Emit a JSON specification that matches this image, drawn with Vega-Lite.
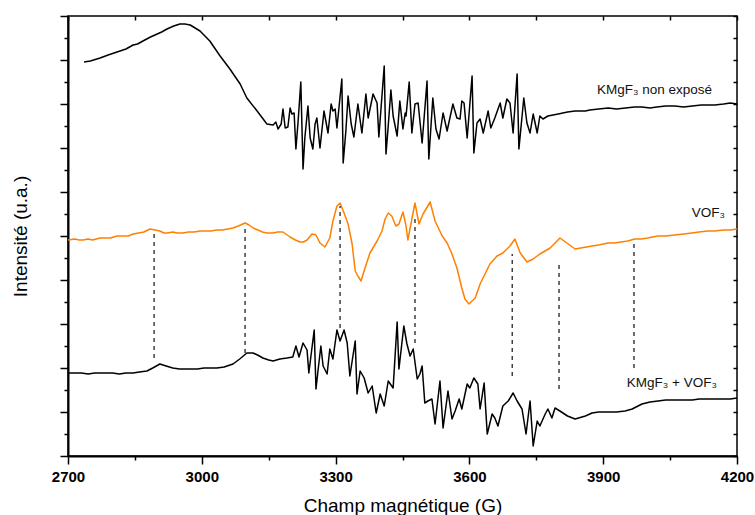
{
  "$schema": "https://vega.github.io/schema/vega-lite/v6.json",
  "width": 669,
  "height": 440,
  "padding": {"left": 11, "top": 15, "right": 10, "bottom": 0},
  "config": {
    "view": {"stroke": "black", "strokeWidth": 1.5},
    "font": "Liberation Sans",
    "axis": {"domainColor": "black", "tickColor": "black", "labelColor": "black", "titleColor": "black", "grid": false, "tickWidth": 1.5, "domainWidth": 2}
  },
  "datasets": {
    "curves": [
      {"s": "a", "g": 2736, "i": 394}, {"s": "a", "g": 2750, "i": 395}, {"s": "a", "g": 2772, "i": 398}, {"s": "a", "g": 2790, "i": 401}, {"s": "a", "g": 2810, "i": 404}, {"s": "a", "g": 2830, "i": 407}, {"s": "a", "g": 2846, "i": 411}, {"s": "a", "g": 2856, "i": 412}, {"s": "a", "g": 2868, "i": 415}, {"s": "a", "g": 2885, "i": 419}, {"s": "a", "g": 2900, "i": 422}, {"s": "a", "g": 2910, "i": 424}, {"s": "a", "g": 2922, "i": 427}, {"s": "a", "g": 2937, "i": 430}, {"s": "a", "g": 2951, "i": 432}, {"s": "a", "g": 2962, "i": 432}, {"s": "a", "g": 2974, "i": 431}, {"s": "a", "g": 2996, "i": 425}, {"s": "a", "g": 3018, "i": 415}, {"s": "a", "g": 3041, "i": 400}, {"s": "a", "g": 3063, "i": 387}, {"s": "a", "g": 3086, "i": 372}, {"s": "a", "g": 3101, "i": 358}, {"s": "a", "g": 3124, "i": 345}, {"s": "a", "g": 3146, "i": 332}, {"s": "a", "g": 3160, "i": 331},
      {"s": "a", "g": 3166, "i": 334}, {"s": "a", "g": 3171, "i": 327}, {"s": "a", "g": 3178, "i": 332}, {"s": "a", "g": 3182, "i": 347}, {"s": "a", "g": 3187, "i": 328}, {"s": "a", "g": 3193, "i": 329}, {"s": "a", "g": 3198, "i": 348}, {"s": "a", "g": 3202, "i": 342}, {"s": "a", "g": 3207, "i": 343}, {"s": "a", "g": 3211, "i": 307}, {"s": "a", "g": 3216, "i": 335}, {"s": "a", "g": 3222, "i": 374}, {"s": "a", "g": 3227, "i": 287}, {"s": "a", "g": 3231, "i": 318}, {"s": "a", "g": 3238, "i": 350}, {"s": "a", "g": 3243, "i": 318}, {"s": "a", "g": 3249, "i": 307}, {"s": "a", "g": 3254, "i": 332}, {"s": "a", "g": 3258, "i": 338}, {"s": "a", "g": 3265, "i": 308}, {"s": "a", "g": 3274, "i": 345}, {"s": "a", "g": 3283, "i": 323}, {"s": "a", "g": 3290, "i": 352}, {"s": "a", "g": 3294, "i": 345}, {"s": "a", "g": 3299, "i": 347}, {"s": "a", "g": 3303, "i": 328}, {"s": "a", "g": 3314, "i": 377}, {"s": "a", "g": 3317, "i": 293}, {"s": "a", "g": 3323, "i": 325}, {"s": "a", "g": 3328, "i": 360}, {"s": "a", "g": 3335, "i": 332}, {"s": "a", "g": 3341, "i": 319}, {"s": "a", "g": 3350, "i": 352}, {"s": "a", "g": 3359, "i": 323}, {"s": "a", "g": 3368, "i": 362}, {"s": "a", "g": 3373, "i": 338}, {"s": "a", "g": 3384, "i": 362}, {"s": "a", "g": 3393, "i": 353}, {"s": "a", "g": 3397, "i": 319}, {"s": "a", "g": 3409, "i": 390}, {"s": "a", "g": 3413, "i": 302}, {"s": "a", "g": 3418, "i": 330}, {"s": "a", "g": 3424, "i": 366}, {"s": "a", "g": 3429, "i": 340}, {"s": "a", "g": 3438, "i": 320}, {"s": "a", "g": 3444, "i": 355}, {"s": "a", "g": 3451, "i": 327}, {"s": "a", "g": 3456, "i": 343}, {"s": "a", "g": 3458, "i": 340}, {"s": "a", "g": 3465, "i": 374}, {"s": "a", "g": 3471, "i": 323}, {"s": "a", "g": 3478, "i": 352}, {"s": "a", "g": 3485, "i": 353}, {"s": "a", "g": 3494, "i": 313}, {"s": "a", "g": 3505, "i": 375}, {"s": "a", "g": 3509, "i": 297}, {"s": "a", "g": 3518, "i": 358}, {"s": "a", "g": 3525, "i": 327}, {"s": "a", "g": 3532, "i": 317}, {"s": "a", "g": 3541, "i": 343}, {"s": "a", "g": 3550, "i": 325}, {"s": "a", "g": 3563, "i": 352}, {"s": "a", "g": 3572, "i": 338}, {"s": "a", "g": 3579, "i": 337}, {"s": "a", "g": 3583, "i": 355}, {"s": "a", "g": 3588, "i": 353}, {"s": "a", "g": 3595, "i": 318}, {"s": "a", "g": 3606, "i": 380}, {"s": "a", "g": 3610, "i": 303}, {"s": "a", "g": 3617, "i": 333}, {"s": "a", "g": 3624, "i": 337}, {"s": "a", "g": 3631, "i": 323}, {"s": "a", "g": 3642, "i": 345}, {"s": "a", "g": 3648, "i": 328}, {"s": "a", "g": 3657, "i": 338}, {"s": "a", "g": 3669, "i": 353}, {"s": "a", "g": 3675, "i": 338}, {"s": "a", "g": 3684, "i": 357}, {"s": "a", "g": 3691, "i": 353}, {"s": "a", "g": 3698, "i": 323}, {"s": "a", "g": 3707, "i": 382}, {"s": "a", "g": 3711, "i": 307}, {"s": "a", "g": 3722, "i": 358}, {"s": "a", "g": 3729, "i": 333}, {"s": "a", "g": 3736, "i": 323}, {"s": "a", "g": 3743, "i": 342}, {"s": "a", "g": 3752, "i": 323}, {"s": "a", "g": 3758, "i": 340}, {"s": "a", "g": 3765, "i": 337}, {"s": "a", "g": 3776, "i": 340}, {"s": "a", "g": 3799, "i": 342}, {"s": "a", "g": 3820, "i": 344}, {"s": "a", "g": 3837, "i": 345}, {"s": "a", "g": 3860, "i": 345}, {"s": "a", "g": 3870, "i": 346}, {"s": "a", "g": 3890, "i": 347}, {"s": "a", "g": 3911, "i": 348}, {"s": "a", "g": 3930, "i": 347}, {"s": "a", "g": 3950, "i": 348}, {"s": "a", "g": 3970, "i": 349}, {"s": "a", "g": 3987, "i": 349}, {"s": "a", "g": 4005, "i": 348}, {"s": "a", "g": 4020, "i": 349}, {"s": "a", "g": 4040, "i": 350}, {"s": "a", "g": 4061, "i": 350}, {"s": "a", "g": 4080, "i": 349}, {"s": "a", "g": 4100, "i": 350}, {"s": "a", "g": 4120, "i": 351}, {"s": "a", "g": 4135, "i": 351}, {"s": "a", "g": 4150, "i": 351}, {"s": "a", "g": 4170, "i": 352}, {"s": "a", "g": 4185, "i": 353}, {"s": "a", "g": 4200, "i": 352},

      {"s": "b", "g": 2700, "i": 216}, {"s": "b", "g": 2715, "i": 217}, {"s": "b", "g": 2725, "i": 216}, {"s": "b", "g": 2734, "i": 216}, {"s": "b", "g": 2745, "i": 217}, {"s": "b", "g": 2755, "i": 216}, {"s": "b", "g": 2772, "i": 218}, {"s": "b", "g": 2785, "i": 218}, {"s": "b", "g": 2795, "i": 218}, {"s": "b", "g": 2810, "i": 220}, {"s": "b", "g": 2822, "i": 220}, {"s": "b", "g": 2835, "i": 220}, {"s": "b", "g": 2846, "i": 222}, {"s": "b", "g": 2858, "i": 223}, {"s": "b", "g": 2870, "i": 224}, {"s": "b", "g": 2884, "i": 227}, {"s": "b", "g": 2895, "i": 226}, {"s": "b", "g": 2906, "i": 225}, {"s": "b", "g": 2915, "i": 223}, {"s": "b", "g": 2922, "i": 223}, {"s": "b", "g": 2935, "i": 224}, {"s": "b", "g": 2945, "i": 223}, {"s": "b", "g": 2958, "i": 223}, {"s": "b", "g": 2970, "i": 224}, {"s": "b", "g": 2983, "i": 224}, {"s": "b", "g": 2996, "i": 225}, {"s": "b", "g": 3008, "i": 225}, {"s": "b", "g": 3020, "i": 225}, {"s": "b", "g": 3034, "i": 226}, {"s": "b", "g": 3046, "i": 226}, {"s": "b", "g": 3058, "i": 227}, {"s": "b", "g": 3070, "i": 228}, {"s": "b", "g": 3082, "i": 230}, {"s": "b", "g": 3097, "i": 233}, {"s": "b", "g": 3106, "i": 231}, {"s": "b", "g": 3115, "i": 228}, {"s": "b", "g": 3126, "i": 226}, {"s": "b", "g": 3136, "i": 224}, {"s": "b", "g": 3146, "i": 223}, {"s": "b", "g": 3160, "i": 223}, {"s": "b", "g": 3170, "i": 224}, {"s": "b", "g": 3182, "i": 224}, {"s": "b", "g": 3198, "i": 219}, {"s": "b", "g": 3210, "i": 216}, {"s": "b", "g": 3220, "i": 214}, {"s": "b", "g": 3228, "i": 214}, {"s": "b", "g": 3236, "i": 216}, {"s": "b", "g": 3247, "i": 222}, {"s": "b", "g": 3256, "i": 221}, {"s": "b", "g": 3265, "i": 213}, {"s": "b", "g": 3276, "i": 209}, {"s": "b", "g": 3287, "i": 218}, {"s": "b", "g": 3294, "i": 235}, {"s": "b", "g": 3303, "i": 250}, {"s": "b", "g": 3310, "i": 253}, {"s": "b", "g": 3319, "i": 243}, {"s": "b", "g": 3328, "i": 232}, {"s": "b", "g": 3337, "i": 212}, {"s": "b", "g": 3344, "i": 185}, {"s": "b", "g": 3350, "i": 180}, {"s": "b", "g": 3357, "i": 175}, {"s": "b", "g": 3366, "i": 188}, {"s": "b", "g": 3377, "i": 203}, {"s": "b", "g": 3393, "i": 215}, {"s": "b", "g": 3404, "i": 225}, {"s": "b", "g": 3411, "i": 237}, {"s": "b", "g": 3418, "i": 243}, {"s": "b", "g": 3426, "i": 240}, {"s": "b", "g": 3435, "i": 230}, {"s": "b", "g": 3442, "i": 232}, {"s": "b", "g": 3451, "i": 244}, {"s": "b", "g": 3458, "i": 230}, {"s": "b", "g": 3462, "i": 216}, {"s": "b", "g": 3471, "i": 237}, {"s": "b", "g": 3478, "i": 253}, {"s": "b", "g": 3487, "i": 232}, {"s": "b", "g": 3496, "i": 242}, {"s": "b", "g": 3512, "i": 254}, {"s": "b", "g": 3523, "i": 235}, {"s": "b", "g": 3539, "i": 220}, {"s": "b", "g": 3550, "i": 213}, {"s": "b", "g": 3561, "i": 202}, {"s": "b", "g": 3572, "i": 188}, {"s": "b", "g": 3583, "i": 168}, {"s": "b", "g": 3590, "i": 157}, {"s": "b", "g": 3599, "i": 152}, {"s": "b", "g": 3613, "i": 158}, {"s": "b", "g": 3624, "i": 172}, {"s": "b", "g": 3635, "i": 182}, {"s": "b", "g": 3646, "i": 192}, {"s": "b", "g": 3662, "i": 200}, {"s": "b", "g": 3675, "i": 203}, {"s": "b", "g": 3691, "i": 210}, {"s": "b", "g": 3702, "i": 217}, {"s": "b", "g": 3714, "i": 203}, {"s": "b", "g": 3729, "i": 194}, {"s": "b", "g": 3743, "i": 197}, {"s": "b", "g": 3758, "i": 202}, {"s": "b", "g": 3781, "i": 208}, {"s": "b", "g": 3803, "i": 218}, {"s": "b", "g": 3837, "i": 207}, {"s": "b", "g": 3875, "i": 210}, {"s": "b", "g": 3890, "i": 211}, {"s": "b", "g": 3911, "i": 213}, {"s": "b", "g": 3925, "i": 213}, {"s": "b", "g": 3940, "i": 214}, {"s": "b", "g": 3955, "i": 215}, {"s": "b", "g": 3971, "i": 217}, {"s": "b", "g": 3985, "i": 217}, {"s": "b", "g": 4000, "i": 218}, {"s": "b", "g": 4010, "i": 219}, {"s": "b", "g": 4023, "i": 220}, {"s": "b", "g": 4040, "i": 220}, {"s": "b", "g": 4060, "i": 221}, {"s": "b", "g": 4080, "i": 222}, {"s": "b", "g": 4099, "i": 223}, {"s": "b", "g": 4115, "i": 224}, {"s": "b", "g": 4135, "i": 225}, {"s": "b", "g": 4150, "i": 225}, {"s": "b", "g": 4170, "i": 226}, {"s": "b", "g": 4185, "i": 226}, {"s": "b", "g": 4200, "i": 227},

      {"s": "c", "g": 2700, "i": 83}, {"s": "c", "g": 2715, "i": 83}, {"s": "c", "g": 2730, "i": 83}, {"s": "c", "g": 2745, "i": 82}, {"s": "c", "g": 2760, "i": 83}, {"s": "c", "g": 2772, "i": 83}, {"s": "c", "g": 2785, "i": 83}, {"s": "c", "g": 2800, "i": 83}, {"s": "c", "g": 2815, "i": 82}, {"s": "c", "g": 2830, "i": 83}, {"s": "c", "g": 2846, "i": 83}, {"s": "c", "g": 2860, "i": 84}, {"s": "c", "g": 2877, "i": 85}, {"s": "c", "g": 2890, "i": 88}, {"s": "c", "g": 2906, "i": 92}, {"s": "c", "g": 2920, "i": 90}, {"s": "c", "g": 2935, "i": 88}, {"s": "c", "g": 2950, "i": 87}, {"s": "c", "g": 2960, "i": 87}, {"s": "c", "g": 2974, "i": 87}, {"s": "c", "g": 2990, "i": 87}, {"s": "c", "g": 3005, "i": 88}, {"s": "c", "g": 3020, "i": 88}, {"s": "c", "g": 3034, "i": 88}, {"s": "c", "g": 3050, "i": 89}, {"s": "c", "g": 3070, "i": 92}, {"s": "c", "g": 3085, "i": 97}, {"s": "c", "g": 3101, "i": 103}, {"s": "c", "g": 3115, "i": 103}, {"s": "c", "g": 3125, "i": 101}, {"s": "c", "g": 3137, "i": 98}, {"s": "c", "g": 3150, "i": 96}, {"s": "c", "g": 3160, "i": 95}, {"s": "c", "g": 3175, "i": 97}, {"s": "c", "g": 3191, "i": 98}, {"s": "c", "g": 3204, "i": 99}, {"s": "c", "g": 3211, "i": 110}, {"s": "c", "g": 3218, "i": 99}, {"s": "c", "g": 3227, "i": 113}, {"s": "c", "g": 3236, "i": 106}, {"s": "c", "g": 3240, "i": 83}, {"s": "c", "g": 3252, "i": 126}, {"s": "c", "g": 3256, "i": 67}, {"s": "c", "g": 3261, "i": 87}, {"s": "c", "g": 3267, "i": 110}, {"s": "c", "g": 3272, "i": 90}, {"s": "c", "g": 3281, "i": 82}, {"s": "c", "g": 3287, "i": 107}, {"s": "c", "g": 3294, "i": 97}, {"s": "c", "g": 3303, "i": 126}, {"s": "c", "g": 3310, "i": 115}, {"s": "c", "g": 3319, "i": 126}, {"s": "c", "g": 3326, "i": 113}, {"s": "c", "g": 3332, "i": 80}, {"s": "c", "g": 3344, "i": 115}, {"s": "c", "g": 3348, "i": 62}, {"s": "c", "g": 3355, "i": 85}, {"s": "c", "g": 3364, "i": 78}, {"s": "c", "g": 3373, "i": 63}, {"s": "c", "g": 3382, "i": 70}, {"s": "c", "g": 3391, "i": 43}, {"s": "c", "g": 3400, "i": 62}, {"s": "c", "g": 3409, "i": 50}, {"s": "c", "g": 3418, "i": 75}, {"s": "c", "g": 3429, "i": 68}, {"s": "c", "g": 3438, "i": 134}, {"s": "c", "g": 3442, "i": 87}, {"s": "c", "g": 3453, "i": 130}, {"s": "c", "g": 3460, "i": 112}, {"s": "c", "g": 3467, "i": 100}, {"s": "c", "g": 3474, "i": 107}, {"s": "c", "g": 3483, "i": 77}, {"s": "c", "g": 3489, "i": 82}, {"s": "c", "g": 3494, "i": 90}, {"s": "c", "g": 3500, "i": 53}, {"s": "c", "g": 3507, "i": 55}, {"s": "c", "g": 3516, "i": 57}, {"s": "c", "g": 3523, "i": 32}, {"s": "c", "g": 3534, "i": 75}, {"s": "c", "g": 3541, "i": 28}, {"s": "c", "g": 3552, "i": 65}, {"s": "c", "g": 3561, "i": 37}, {"s": "c", "g": 3568, "i": 45}, {"s": "c", "g": 3577, "i": 57}, {"s": "c", "g": 3583, "i": 47}, {"s": "c", "g": 3595, "i": 72}, {"s": "c", "g": 3601, "i": 68}, {"s": "c", "g": 3610, "i": 78}, {"s": "c", "g": 3619, "i": 72}, {"s": "c", "g": 3624, "i": 47}, {"s": "c", "g": 3633, "i": 73}, {"s": "c", "g": 3640, "i": 22}, {"s": "c", "g": 3651, "i": 42}, {"s": "c", "g": 3657, "i": 38}, {"s": "c", "g": 3664, "i": 30}, {"s": "c", "g": 3675, "i": 50}, {"s": "c", "g": 3687, "i": 55}, {"s": "c", "g": 3698, "i": 63}, {"s": "c", "g": 3707, "i": 55}, {"s": "c", "g": 3718, "i": 47}, {"s": "c", "g": 3727, "i": 22}, {"s": "c", "g": 3736, "i": 55}, {"s": "c", "g": 3743, "i": 10}, {"s": "c", "g": 3752, "i": 35}, {"s": "c", "g": 3758, "i": 30}, {"s": "c", "g": 3770, "i": 42}, {"s": "c", "g": 3776, "i": 47}, {"s": "c", "g": 3785, "i": 38}, {"s": "c", "g": 3792, "i": 48}, {"s": "c", "g": 3803, "i": 45}, {"s": "c", "g": 3820, "i": 40}, {"s": "c", "g": 3837, "i": 37}, {"s": "c", "g": 3860, "i": 40}, {"s": "c", "g": 3875, "i": 43}, {"s": "c", "g": 3890, "i": 44}, {"s": "c", "g": 3910, "i": 44}, {"s": "c", "g": 3930, "i": 44}, {"s": "c", "g": 3949, "i": 45}, {"s": "c", "g": 3965, "i": 47}, {"s": "c", "g": 3987, "i": 52}, {"s": "c", "g": 4005, "i": 54}, {"s": "c", "g": 4023, "i": 55}, {"s": "c", "g": 4040, "i": 56}, {"s": "c", "g": 4061, "i": 56}, {"s": "c", "g": 4080, "i": 56}, {"s": "c", "g": 4100, "i": 56}, {"s": "c", "g": 4115, "i": 57}, {"s": "c", "g": 4135, "i": 57}, {"s": "c", "g": 4150, "i": 57}, {"s": "c", "g": 4170, "i": 57}, {"s": "c", "g": 4185, "i": 57}, {"s": "c", "g": 4200, "i": 58}
    ],
    "rules": [
      {"g": 2893, "lo": 98, "hi": 226},
      {"g": 3097, "lo": 103, "hi": 231},
      {"g": 3310, "lo": 128, "hi": 250},
      {"g": 3478, "lo": 113, "hi": 237},
      {"g": 3696, "lo": 80, "hi": 202},
      {"g": 3801, "lo": 67, "hi": 192},
      {"g": 3969, "lo": 88, "hi": 212}
    ],
    "labels": [
      {"g": 4144, "i": 366, "t": "KMgF₃ non exposé"},
      {"g": 4173, "i": 243, "t": "VOF₃"},
      {"g": 4155, "i": 73, "t": "KMgF₃ + VOF₃"}
    ]
  },
  "resolve": {"axis": {"x": "independent", "y": "independent"}},
  "layer": [
    {
      "data": {"name": "curves"},
      "mark": {"type": "line", "strokeWidth": 1.5, "strokeJoin": "round"},
      "encoding": {
        "x": {"field": "g", "type": "quantitative", "scale": {"domain": [2700, 4200], "nice": false, "zero": false},
          "axis": {"orient": "bottom", "title": "Champ magnétique (G)", "values": [2700, 2850, 3000, 3150, 3300, 3450, 3600, 3750, 3900, 4050, 4200],
            "labelExpr": "datum.value % 300 === 0 ? datum.value : ''", "tickSize": {"expr": "datum.value % 300 === 0 ? 8 : 4"},
            "labelFontSize": 15, "labelFontWeight": "bold", "labelPadding": 5, "titleFontSize": 19, "titleFontWeight": "normal", "titlePadding": 12, "labelFlush": false}},
        "y": {"field": "i", "type": "quantitative", "scale": {"domain": [0, 440], "nice": false, "zero": false},
          "axis": {"orient": "left", "title": "Intensité (u.a.)", "values": [0, 22, 44, 66, 88, 110, 132, 154, 176, 198, 220, 242, 264, 286, 308, 330, 352, 374, 396, 418, 440],
            "labels": false, "tickSize": {"expr": "datum.value % 44 === 0 ? 8 : 4"}, "titleFontSize": 19, "titleFontWeight": "normal", "titlePadding": 29}},
        "detail": {"field": "s"},
        "color": {"field": "s", "type": "nominal", "scale": {"domain": ["a", "b", "c"], "range": ["#000000", "#ff8000", "#000000"]}, "legend": null}
      }
    },
    {
      "data": {"name": "rules"},
      "mark": {"type": "rule", "strokeDash": [4, 4], "strokeWidth": 1.3, "color": "#222222"},
      "encoding": {
        "x": {"field": "g", "type": "quantitative",
          "axis": {"orient": "top", "title": null, "labels": false, "domain": false, "values": [2700, 2850, 3000, 3150, 3300, 3450, 3600, 3750, 3900, 4050, 4200], "tickSize": -4}},
        "y": {"field": "lo", "type": "quantitative",
          "axis": {"orient": "right", "title": null, "labels": false, "domain": false, "values": [0, 22, 44, 66, 88, 110, 132, 154, 176, 198, 220, 242, 264, 286, 308, 330, 352, 374, 396, 418, 440], "tickSize": -4}},
        "y2": {"field": "hi"}
      }
    },
    {
      "data": {"name": "labels"},
      "mark": {"type": "text", "align": "right", "baseline": "middle", "fontSize": 13.5, "font": "Liberation Sans", "color": "#111111"},
      "encoding": {
        "x": {"field": "g", "type": "quantitative", "axis": null},
        "y": {"field": "i", "type": "quantitative", "axis": null},
        "text": {"field": "t"}
      }
    }
  ]
}
